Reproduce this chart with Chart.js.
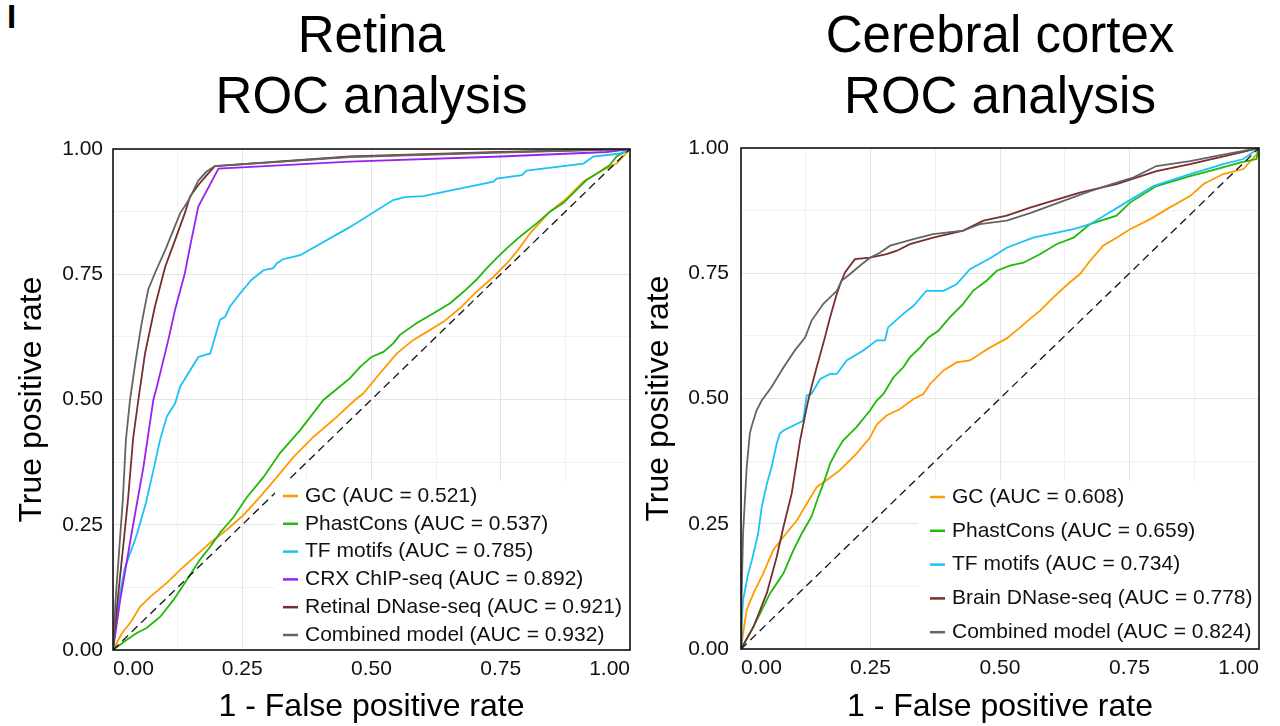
<!DOCTYPE html>
<html>
<head>
<meta charset="utf-8">
<script src="https://cdn.jsdelivr.net/npm/chart.js@4.4.1/dist/chart.umd.min.js"></script>
<style>
  html, body { margin: 0; padding: 0; background: #fff; }
  .panel { position: absolute; top: 0; width: 640px; height: 726px; }
  .tag { position: absolute; left: 7px; top: 0; font: bold 33px "Liberation Sans", Arial, sans-serif; line-height: 1; }
</style>
</head>
<body>
<div class="tag">I</div>
<div class="panel" style="left:0"><canvas id="chart1"></canvas></div>
<div class="panel" style="left:640px"><canvas id="chart2"></canvas></div>
<script>
// axis ticks (every 0.125, labels only on the quarters)
var tickValues = [0, 0.25, 0.5, 0.75, 1];

// Retina panel
var retinaNames = ['GC', 'PhastCons', 'TF motifs', 'CRX ChIP-seq', 'Retinal DNase-seq', 'Combined model'];
var retinaAuc = ['0.521', '0.537', '0.785', '0.892', '0.921', '0.932'];
var retinaGC = [[0,0],[0.017,0.033],[0.036,0.058],[0.052,0.086],[0.072,0.106],[0.104,0.134],[0.13,0.16],[0.162,0.19],
    [0.188,0.214],[0.22,0.24],[0.252,0.269],[0.284,0.305],[0.317,0.345],[0.349,0.385],[0.387,0.425],[0.426,0.459],
    [0.468,0.499],[0.484,0.512],[0.516,0.552],[0.549,0.592],[0.581,0.619],[0.607,0.635],[0.639,0.655],[0.671,0.682],
    [0.703,0.715],[0.736,0.745],[0.762,0.772],[0.781,0.795],[0.807,0.832],[0.845,0.875],[0.878,0.902],[0.91,0.935],
    [0.948,0.958],[0.974,0.971],[1,1]];
var retinaPhast = [[0,0],[0.026,0.02],[0.046,0.034],[0.065,0.044],[0.091,0.066],[0.117,0.1],[0.143,0.14],[0.168,0.18],
    [0.188,0.206],[0.207,0.234],[0.233,0.265],[0.259,0.305],[0.291,0.345],[0.323,0.393],[0.362,0.439],[0.407,0.499],
    [0.458,0.542],[0.478,0.565],[0.5,0.585],[0.523,0.595],[0.542,0.612],[0.555,0.629],[0.587,0.652],[0.62,0.672],
    [0.652,0.692],[0.678,0.715],[0.703,0.739],[0.723,0.762],[0.742,0.782],[0.762,0.802],[0.787,0.825],[0.82,0.852],
    [0.845,0.875],[0.871,0.892],[0.903,0.925],[0.916,0.938],[0.942,0.955],[0.961,0.968],[0.974,0.985],[1,1]];
var retinaTF = [[0,0],[0.011,0.1],[0.023,0.164],[0.046,0.23],[0.064,0.295],[0.079,0.363],[0.091,0.419],[0.104,0.466],
    [0.12,0.492],[0.13,0.526],[0.165,0.585],[0.188,0.592],[0.207,0.659],[0.217,0.665],[0.226,0.685],[0.246,0.712],
    [0.268,0.739],[0.291,0.758],[0.31,0.762],[0.317,0.772],[0.329,0.78],[0.362,0.788],[0.458,0.844],[0.542,0.898],
    [0.565,0.904],[0.6,0.906],[0.736,0.935],[0.742,0.941],[0.791,0.948],[0.8,0.957],[0.91,0.971],[0.929,0.985],
    [0.981,0.991],[1,1]];
var retinaCRX = [[0,0],[0.014,0.1],[0.036,0.233],[0.059,0.366],[0.078,0.499],[0.085,0.526],[0.107,0.619],[0.12,0.679],
    [0.139,0.752],[0.149,0.805],[0.165,0.885],[0.204,0.961],[0.458,0.975],[0.75,0.985],[0.955,0.994],[1,1]];
var retinaDNase = [[0,0],[0.009,0.1],[0.019,0.2],[0.029,0.3],[0.039,0.423],[0.049,0.499],[0.062,0.592],[0.081,0.685],
    [0.101,0.765],[0.12,0.818],[0.139,0.872],[0.149,0.905],[0.168,0.932],[0.184,0.951],[0.197,0.966],[0.458,0.985],
    [0.75,0.994],[1,1]];
var retinaCombined = [[0,0],[0.005,0.1],[0.012,0.2],[0.019,0.3],[0.025,0.42],[0.033,0.5],[0.043,0.572],[0.055,0.65],
    [0.068,0.719],[0.081,0.752],[0.101,0.798],[0.13,0.872],[0.146,0.897],[0.165,0.937],[0.181,0.955],[0.197,0.966],
    [0.458,0.984],[0.75,0.993],[1,1]];

// Cerebral cortex panel
var cortexNames = ['GC', 'PhastCons', 'TF motifs', 'Brain DNase-seq', 'Combined model'];
var cortexAuc = ['0.608', '0.659', '0.734', '0.778', '0.824'];
var cortexGC = [[0,0],[0.004,0.031],[0.011,0.078],[0.024,0.111],[0.043,0.151],[0.062,0.197],[0.082,0.224],[0.108,0.257],
    [0.127,0.29],[0.146,0.323],[0.165,0.337],[0.191,0.357],[0.223,0.39],[0.249,0.422],[0.262,0.448],[0.281,0.466],
    [0.307,0.479],[0.333,0.499],[0.352,0.509],[0.365,0.529],[0.391,0.556],[0.416,0.572],[0.442,0.576],[0.461,0.589],
    [0.481,0.602],[0.513,0.62],[0.539,0.642],[0.558,0.659],[0.577,0.675],[0.603,0.702],[0.635,0.732],[0.654,0.748],
    [0.674,0.775],[0.699,0.805],[0.725,0.821],[0.751,0.838],[0.79,0.858],[0.822,0.878],[0.867,0.904],[0.893,0.928],
    [0.931,0.948],[0.97,0.958],[0.995,0.987],[1,1]];
var cortexPhast = [[0,0],[0.017,0.031],[0.037,0.071],[0.056,0.111],[0.082,0.151],[0.101,0.197],[0.117,0.23],[0.136,0.264],
    [0.149,0.303],[0.159,0.33],[0.172,0.37],[0.185,0.396],[0.197,0.416],[0.223,0.443],[0.249,0.476],[0.262,0.496],
    [0.275,0.509],[0.294,0.542],[0.313,0.562],[0.326,0.582],[0.346,0.602],[0.362,0.622],[0.381,0.635],[0.403,0.662],
    [0.429,0.689],[0.448,0.715],[0.474,0.735],[0.494,0.755],[0.519,0.765],[0.545,0.771],[0.577,0.788],[0.609,0.808],
    [0.642,0.821],[0.674,0.848],[0.725,0.865],[0.751,0.891],[0.802,0.924],[0.867,0.944],[0.918,0.958],[0.963,0.971],
    [0.995,0.978],[1,1]];
var cortexTF = [[0,0],[0.001,0.044],[0.004,0.098],[0.014,0.151],[0.021,0.177],[0.033,0.23],[0.04,0.283],[0.05,0.33],
    [0.059,0.363],[0.069,0.41],[0.075,0.43],[0.082,0.436],[0.117,0.454],[0.12,0.456],[0.127,0.506],[0.136,0.509],
    [0.153,0.539],[0.172,0.549],[0.185,0.549],[0.204,0.576],[0.236,0.596],[0.262,0.616],[0.278,0.616],[0.284,0.642],
    [0.313,0.669],[0.333,0.685],[0.358,0.715],[0.391,0.715],[0.416,0.728],[0.442,0.758],[0.481,0.78],[0.513,0.801],
    [0.564,0.821],[0.642,0.838],[0.674,0.848],[0.738,0.888],[0.796,0.924],[0.867,0.948],[0.931,0.968],[0.97,0.978],
    [1,1]];
var cortexDNase = [[0,0],[0.024,0.044],[0.05,0.112],[0.069,0.184],[0.082,0.244],[0.098,0.311],[0.114,0.416],[0.127,0.483],
    [0.136,0.523],[0.146,0.562],[0.162,0.622],[0.172,0.662],[0.185,0.709],[0.194,0.735],[0.201,0.752],[0.22,0.778],
    [0.249,0.781],[0.281,0.788],[0.301,0.795],[0.326,0.808],[0.371,0.821],[0.429,0.835],[0.468,0.855],[0.513,0.865],
    [0.558,0.881],[0.654,0.911],[0.725,0.928],[0.802,0.954],[0.867,0.968],[0.963,0.991],[1,1]];
var cortexCombined = [[0,0],[0.001,0.098],[0.004,0.231],[0.011,0.363],[0.017,0.43],[0.021,0.446],[0.03,0.476],[0.04,0.496],
    [0.059,0.523],[0.082,0.562],[0.104,0.596],[0.124,0.622],[0.136,0.655],[0.159,0.689],[0.185,0.715],[0.194,0.735],
    [0.21,0.748],[0.233,0.768],[0.249,0.781],[0.268,0.791],[0.288,0.805],[0.333,0.818],[0.371,0.828],[0.429,0.835],
    [0.461,0.848],[0.513,0.855],[0.558,0.87],[0.674,0.914],[0.725,0.931],[0.757,0.941],[0.802,0.964],[0.867,0.974],
    [0.931,0.987],[1,1]];

var chanceLine = [[0,0],[1,1]];

var colors = {
    gc: '#ff9a00',
    phast: '#20b80a',
    tf: '#19c3f5',
    crx: '#9a21f2',
    dnase: '#772e2e',
    combined: '#646464'
};

Chart.defaults.font.family = '"Liberation Sans", Arial, sans-serif';
Chart.defaults.color = '#111';

function toPoints(arr) {
    return arr.map(function (p) { return {x: p[0], y: p[1]}; });
}

function curve(label, data, color, order) {
    return {
        label: label,
        data: toPoints(data),
        borderColor: color,
        backgroundColor: color,
        borderWidth: 1.8,
        showLine: true,
        pointRadius: 0,
        tension: 0,
        order: order
    };
}

// legend drawn inside the plot, bottom right, on a white box
var rocLegend = {
    id: 'rocLegend',
    afterDatasetsDraw: function (chart, args, opts) {
        var ctx = chart.ctx;
        var area = chart.chartArea;
        var items = chart.data.datasets.filter(function (d) { return !d.isChance; });
        ctx.save();
        ctx.fillStyle = '#fff';
        ctx.fillRect(opts.boxLeft, opts.boxTop, area.right - opts.boxLeft, area.bottom - opts.boxTop);
        ctx.font = '21px "Liberation Sans", Arial, sans-serif';
        ctx.textBaseline = 'middle';
        items.forEach(function (d, i) {
            var y = opts.y + i * opts.rowHeight;
            ctx.strokeStyle = d.borderColor;
            ctx.lineWidth = 2.5;
            ctx.beginPath();
            ctx.moveTo(opts.x, y);
            ctx.lineTo(opts.x + 15, y);
            ctx.stroke();
            ctx.fillStyle = '#111';
            ctx.fillText(d.label, opts.x + 22, y);
        });
        ctx.restore();
    }
};

var plotFrame = {
    id: 'plotFrame',
    afterDraw: function (chart) {
        var a = chart.chartArea;
        var ctx = chart.ctx;
        ctx.save();
        ctx.strokeStyle = '#111';
        ctx.lineWidth = 1.6;
        ctx.strokeRect(a.left, a.top, a.right - a.left, a.bottom - a.top);
        ctx.restore();
    }
};

function gridColor(c) {
    var v = Math.round(c.tick.value * 1000);
    return v % 250 === 0 ? '#e3e3e3' : '#f1f1f1';
}

function tickLabel(v) {
    return tickValues.indexOf(Math.round(v * 1000) / 1000) >= 0 ? v.toFixed(2) : '';
}

function makeRocChart(id, s) {
    var ctx = document.getElementById(id).getContext('2d');
    return new Chart(ctx, {
        type: 'scatter',
        data: { datasets: s.datasets },
        plugins: [rocLegend, plotFrame],
        options: {
            responsive: true,
            maintainAspectRatio: false,
            animation: false,
            events: [],
            layout: { padding: s.padding },
            plugins: {
                legend: { display: false },
                tooltip: { enabled: false },
                title: {
                    display: true,
                    text: s.title,
                    fullSize: false,
                    color: '#000',
                    font: { size: 51, weight: 'normal' },
                    padding: s.titlePadding
                },
                rocLegend: s.legend
            },
            scales: {
                x: {
                    type: 'linear',
                    min: 0,
                    max: 1,
                    grid: { color: gridColor, drawTicks: false },
                    border: { display: false },
                    ticks: { stepSize: 0.125, autoSkip: false, maxRotation: 0, align: 'inner', padding: 7,
                        font: { size: 21 }, callback: tickLabel },
                    title: { display: true, text: '1 - False positive rate', color: '#000',
                        font: { size: 32 }, padding: { top: 0, bottom: 0 } },
                    afterFit: function (scale) { scale.height = s.xHeight; }
                },
                y: {
                    type: 'linear',
                    min: 0,
                    max: 1,
                    grid: { color: gridColor, drawTicks: false },
                    border: { display: false },
                    ticks: { stepSize: 0.125, autoSkip: false, padding: s.yPad,
                        font: { size: 21 }, callback: tickLabel },
                    title: { display: true, text: 'True positive rate', color: '#000',
                        font: { size: 32 }, padding: { top: 0, bottom: 0 } },
                    afterFit: function (scale) { scale.width = s.yWidth; }
                }
            }
        }
    });
}

function chanceSet() {
    return {
        label: 'chance', isChance: true, data: toPoints(chanceLine), borderColor: '#111',
        borderWidth: 1.3, borderDash: [8, 5], showLine: true, pointRadius: 0, order: 0
    };
}

function withAuc(names, auc, i) {
    return names[i] + ' (AUC = ' + auc[i] + ')';
}

makeRocChart('chart1', {
    title: ['Retina', 'ROC analysis'],
    padding: { left: 13, right: 10, top: 0, bottom: 0 },
    titlePadding: { top: 7, bottom: 19.6 },
    yWidth: 100, yPad: 10, xHeight: 76,
    legend: { x: 283, y: 496, rowHeight: 27.8, boxLeft: 275, boxTop: 481 },
    datasets: [
        curve(withAuc(retinaNames, retinaAuc, 0), retinaGC, colors.gc, 6),
        curve(withAuc(retinaNames, retinaAuc, 1), retinaPhast, colors.phast, 5),
        curve(withAuc(retinaNames, retinaAuc, 2), retinaTF, colors.tf, 4),
        curve(withAuc(retinaNames, retinaAuc, 3), retinaCRX, colors.crx, 3),
        curve(withAuc(retinaNames, retinaAuc, 4), retinaDNase, colors.dnase, 2),
        curve(withAuc(retinaNames, retinaAuc, 5), retinaCombined, colors.combined, 1),
        chanceSet()
    ]
});

makeRocChart('chart2', {
    title: ['Cerebral cortex', 'ROC analysis'],
    padding: { left: 0, right: 21, top: 0, bottom: 0 },
    titlePadding: { top: 7, bottom: 18.6 },
    yWidth: 101, yPad: 12, xHeight: 77,
    legend: { x: 290, y: 497, rowHeight: 33.8, boxLeft: 278, boxTop: 481 },
    datasets: [
        curve(withAuc(cortexNames, cortexAuc, 0), cortexGC, colors.gc, 6),
        curve(withAuc(cortexNames, cortexAuc, 1), cortexPhast, colors.phast, 5),
        curve(withAuc(cortexNames, cortexAuc, 2), cortexTF, colors.tf, 4),
        curve(withAuc(cortexNames, cortexAuc, 3), cortexDNase, colors.dnase, 2),
        curve(withAuc(cortexNames, cortexAuc, 4), cortexCombined, colors.combined, 1),
        chanceSet()
    ]
});
</script>
</body>
</html>
